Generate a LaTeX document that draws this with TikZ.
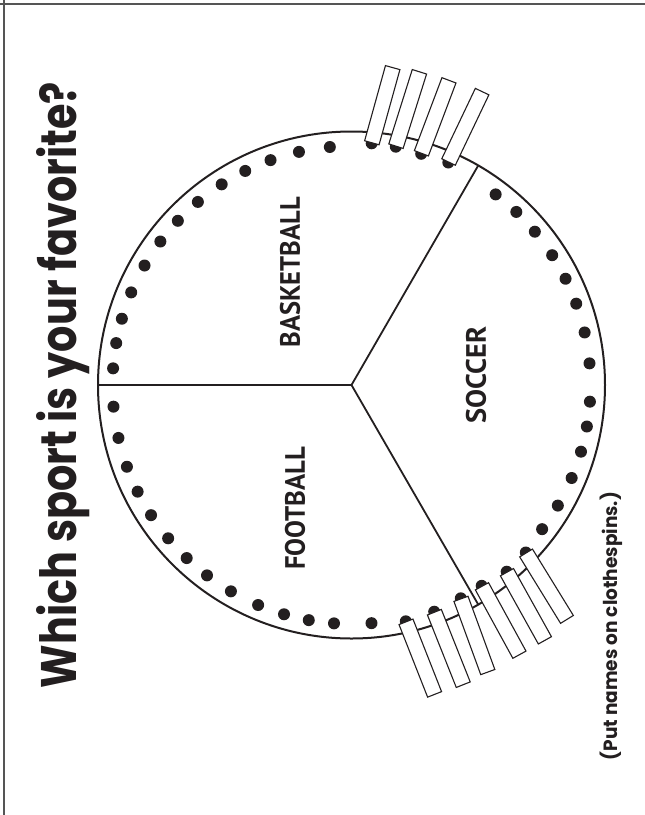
\documentclass[tikz,border=0pt]{standalone}
\usepackage{fontspec}
\usetikzlibrary{calc}
\setmainfont{Liberation Sans}
\newfontfamily\titlefont{Poppins}
\newfontfamily\labelfont{PT Sans}
\definecolor{inkc}{RGB}{35,31,32}
\definecolor{framegray}{RGB}{85,85,85}
\begin{document}
\begin{tikzpicture}[x=1pt,y=1pt,
  clothespin/.style={draw=inkc, fill=white, line width=1.1pt, rectangle,
    minimum width=78pt, minimum height=15pt, inner sep=0pt, anchor=west},
  sportlabel/.style={rotate=90, inner sep=0pt, text=inkc},
  divider/.style={draw=inkc, line width=1.8pt},
  framerule/.style={draw=framegray, line width=1.7pt}
]
\useasboundingbox (0,0) rectangle (645,-815);
% frame
\draw[framerule] (0,-4) -- (645,-4);
\draw[framerule] (4,0) -- (4,-815);
% circle and dividers
\coordinate (c) at (351.5,-385);
\draw[inkc, line width=2pt] (c) circle (253.5);
\coordinate (d1) at ($(c)+(180:253.5)$);
\coordinate (d2) at ($(c)+(60:253.5)$);
\coordinate (d3) at ($(c)+(-60:253.5)$);
\draw[divider] (c) -- (d1);
\draw[divider] (c) -- (d2);
\draw[divider] (c) -- (d3);
% dots
\begin{scope}[shift={(351.5,-385)}]
\foreach \a in {95.2,102.7,109.8,116.4,122.9,130,136.6,143.1,150,157.2,163.9,169.9,176,
  52.9,46.4,39.9,32.9,26.4,19.9,12.7,5.2,-4,-10,-16.2,-22.9,-30.3,-37.1,
  185.2,192.8,200,206.5,213,219.9,226.4,232.8,239.7,247,253.6,259.7,265.8,274.8}
  \fill[inkc] (\a:239) circle (6);
\end{scope}
% clothespins with their dots
\foreach \x/\y/\a [count=\i] in {371.7/143.3/74.5, 395.8/146.7/72.5, 421.2/153.8/69.3, 448.3/162.5/64.5,
  405.8/621.3/-68.5, 434.2/611.7/-68.3, 460.8/598.3/-69.9, 481.7/585.8/-61.3, 506.7/571.7/-60.9, 525.8/552.5/-58.4}
{
  \fill[inkc] (\x,-\y) circle (6);
  \node[clothespin, rotate=\a] (cp\i) at (\x,-\y) {};
}
% labels
\node[sportlabel] (basket) at (290,-272.3) {\resizebox{150pt}{20pt}{\labelfont\bfseries BASKETBALL}};
\node[sportlabel] (foot) at (295,-508.3) {\resizebox{123pt}{20pt}{\labelfont\bfseries FOOTBALL}};
\node[sportlabel] (soccer) at (476,-375) {\resizebox{97pt}{20pt}{\labelfont\bfseries SOCCER}};
% title and note
\node[rotate=90, anchor=base, inner sep=0pt, text=inkc] (title) at (76,-385)
  {\resizebox{606pt}{40pt}{\titlefont\bfseries Which sport is your favorite?}};
\node[rotate=90, anchor=base, inner sep=0pt, text=inkc] (note) at (617.5,-626)
  {\resizebox{268pt}{17.5pt}{\titlefont\bfseries (Put names on clothespins.)}};
\end{tikzpicture}
\end{document}
